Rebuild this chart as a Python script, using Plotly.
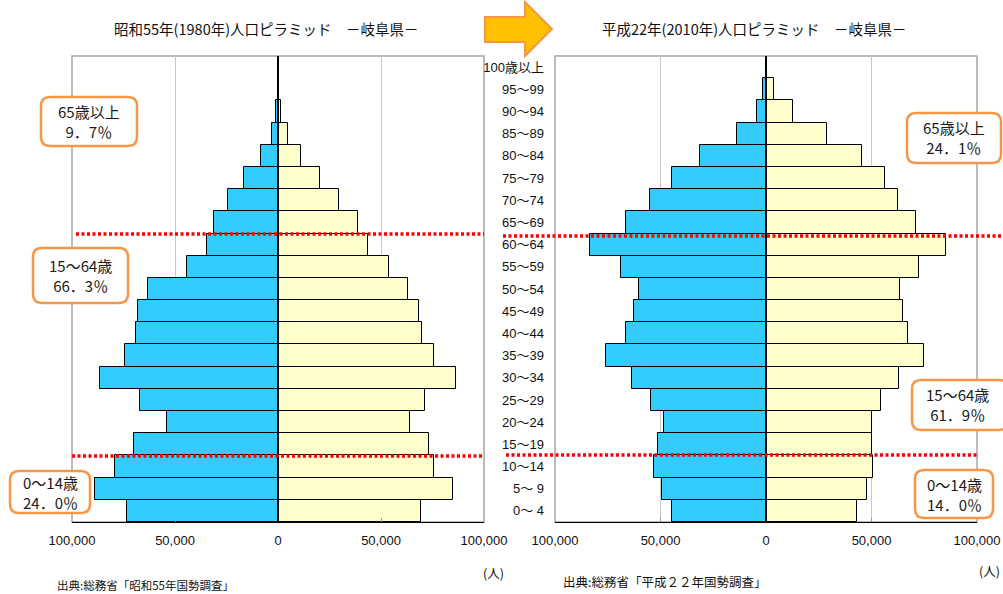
import plotly.graph_objects as go

# ---------------- data (bottom -> top) ----------------
age_labels = ["0～ 4", "5～ 9", "10～14", "15～19", "20～24", "25～29", "30～34",
              "35～39", "40～44", "45～49", "50～54", "55～59", "60～64", "65～69",
              "70～74", "75～79", "80～84", "85～89", "90～94", "95～99", "100歳以上"]

male_1980 = [73300, 88800, 79000, 70100, 53700, 66900, 86300, 74200, 68700, 67800,
             63200, 44000, 34600, 31100, 24100, 16400, 8100, 2800, 900, 150, 20]
female_1980 = [69200, 84800, 75600, 73300, 64000, 71500, 86500, 75600, 70100, 68400,
               63200, 53900, 43700, 39000, 29400, 20500, 11300, 4700, 1300, 250, 30]

male_2010 = [44600, 49400, 53300, 51300, 48500, 54400, 63400, 76000, 66200, 62500,
             60000, 68600, 83300, 66400, 55000, 44600, 31100, 13700, 4400, 1300, 150]
female_2010 = [43000, 47700, 50800, 50000, 50000, 54700, 62900, 74900, 67100, 65100,
               63400, 72400, 85500, 71100, 62600, 56300, 45300, 28900, 12900, 3800, 600]

tick_vals = [-100000, -50000, 0, 50000, 100000]
tick_text = ["100,000", "50,000", "0", "50,000", "100,000"]

title_1980 = "昭和55年(1980年)人口ピラミッド　－岐阜県－"
title_2010 = "平成22年(2010年)人口ピラミッド　－岐阜県－"
source_1980 = "出典:総務省「昭和55年国勢調査」"
source_2010 = "出典:総務省「平成２２年国勢調査」"
unit_label = "(人)"

shares_1980 = [("65歳以上", "9．7％"), ("15～64歳", "66．3％"), ("0～14歳", "24．0％")]
shares_2010 = [("65歳以上", "24．1％"), ("15～64歳", "61．9％"), ("0～14歳", "14．0％")]

# ---------------- styling ----------------
W, H = 1003, 594
MALE = "#33CCFF"
FEMALE = "#FFFFCC"
JP = "Noto Sans CJK JP"
NARROW = "Liberation Sans Narrow, Liberation Sans, Noto Sans CJK JP"
ORANGE = "#F79646"


def px(x):
    return x / W


def py(y):
    return 1 - y / H


fig = go.Figure()

for xa, ya, m, f in [("x", "y", male_1980, female_1980), ("x2", "y2", male_2010, female_2010)]:
    fig.add_trace(go.Bar(y=age_labels, x=[-v for v in m], orientation="h",
                         marker=dict(color=MALE, line=dict(color="black", width=1)),
                         xaxis=xa, yaxis=ya, showlegend=False, hoverinfo="skip"))
    fig.add_trace(go.Bar(y=age_labels, x=f, orientation="h",
                         marker=dict(color=FEMALE, line=dict(color="black", width=1)),
                         xaxis=xa, yaxis=ya, showlegend=False, hoverinfo="skip"))

xcommon = dict(range=[-100000, 100000], tickvals=tick_vals, ticktext=tick_text,
               showgrid=True, gridcolor="#C8C8C8", gridwidth=1, zeroline=False,
               showline=True, linecolor="black", linewidth=1,
               ticks="inside", ticklen=4, tickcolor="#999999",
               tickfont=dict(family=NARROW, size=13, color="#111111"),
               ticklabelstandoff=6, fixedrange=True, automargin=False)
ycommon = dict(type="category", categoryorder="array", categoryarray=age_labels,
               range=[-0.5, len(age_labels) - 0.5], showgrid=False, zeroline=False,
               fixedrange=True, automargin=False)

ydom = [py(522), py(56)]
fig.update_layout(
    width=W, height=H,
    margin=dict(l=0, r=0, t=0, b=0, autoexpand=False),
    paper_bgcolor="white", plot_bgcolor="white",
    barmode="relative", bargap=0,
    xaxis=dict(domain=[px(72), px(484)], anchor="y", **xcommon),
    yaxis=dict(domain=ydom, anchor="x", showticklabels=False, ticks="", **ycommon),
    xaxis2=dict(domain=[px(555), px(977)], anchor="y2", **xcommon),
    yaxis2=dict(domain=ydom, anchor="x2", showticklabels=True, ticks="",
                ticklabelstandoff=10,
                tickfont=dict(family=NARROW, size=13, color="#111111"), **ycommon),
)

shapes = []
# plot borders (gray) and centre lines
for xr, yr in [("x domain", "y domain"), ("x2 domain", "y2 domain")]:
    shapes.append(dict(type="rect", xref=xr, yref=yr, x0=0, x1=1, y0=0, y1=1,
                       line=dict(color="#A6A6A6", width=1.5), layer="below"))
for xr, yr in [("x", "y domain"), ("x2", "y2 domain")]:
    shapes.append(dict(type="line", xref=xr, yref=yr, x0=0, x1=0, y0=0, y1=1,
                       line=dict(color="black", width=2), layer="above"))

# red dotted boundary lines
red_lines = [(76, 484, 234), (503, 1001, 236), (72, 484, 456), (506, 977, 455)]
for x0, x1, y in red_lines:
    shapes.append(dict(type="line", xref="paper", yref="paper",
                       x0=px(x0), x1=px(x1), y0=py(y), y1=py(y),
                       line=dict(color="#FF0000", width=3.5, dash="3px,2.5px"), layer="above"))


def rrect(x0, y0, x1, y1, r):
    pts = [("M", x0 + r, y0), ("L", x1 - r, y0), ("Q", x1, y0, x1, y0 + r),
           ("L", x1, y1 - r), ("Q", x1, y1, x1 - r, y1), ("L", x0 + r, y1),
           ("Q", x0, y1, x0, y1 - r), ("L", x0, y0 + r), ("Q", x0, y0, x0 + r, y0)]
    out = []
    for p in pts:
        cmd = p[0]
        coords = p[1:]
        s = " ".join(f"{px(coords[i]):.5f},{py(coords[i + 1]):.5f}" for i in range(0, len(coords), 2))
        out.append(f"{cmd} {s}")
    return " ".join(out) + " Z"


boxes_1980 = [(41, 97, 137, 146), (33, 248, 128, 303), (10, 471, 90, 513)]
boxes_2010 = [(907, 113, 1001, 163), (912, 380, 1008, 430), (915, 470, 993, 518)]

annotations = []
for boxes, shares in [(boxes_1980, shares_1980), (boxes_2010, shares_2010)]:
    for (x0, y0, x1, y1), (lab, pct) in zip(boxes, shares):
        shapes.append(dict(type="path", xref="paper", yref="paper",
                           path=rrect(x0, y0, x1, y1, 9), fillcolor="white",
                           line=dict(color=ORANGE, width=2.5), layer="above"))
        cx = (x0 + 1002) / 2 if x1 > 1003 else (x0 + x1) / 2
        annotations.append(dict(xref="paper", yref="paper", x=px(cx), y=py((y0 + y1) / 2),
                                text=f"{lab}<br>{pct}", showarrow=False,
                                font=dict(family=JP, size=15, color="#1a1a1a"),
                                xanchor="center", yanchor="middle", align="center"))

# orange arrow between the titles
arrow = [(485, 17), (525, 17), (525, 2), (552, 29), (525, 56), (525, 42), (485, 42)]
apath = "M " + " L ".join(f"{px(x):.5f},{py(y):.5f}" for x, y in arrow) + " Z"
shapes.append(dict(type="path", xref="paper", yref="paper", path=apath,
                   fillcolor="#FFC000", line=dict(color=ORANGE, width=2), layer="above"))

# titles, units, sources
annotations += [
    dict(xref="paper", yref="paper", x=px(266), y=py(28), text=title_1980, showarrow=False,
         font=dict(family=JP, size=14.5, color="#111111"), xanchor="center", yanchor="middle"),
    dict(xref="paper", yref="paper", x=px(754), y=py(28), text=title_2010, showarrow=False,
         font=dict(family=JP, size=14.5, color="#111111"), xanchor="center", yanchor="middle"),
    dict(xref="paper", yref="paper", x=px(493), y=py(572), text=unit_label, showarrow=False,
         font=dict(family=JP, size=12.5, color="#111111"), xanchor="center", yanchor="middle"),
    dict(xref="paper", yref="paper", x=px(989), y=py(570), text=unit_label, showarrow=False,
         font=dict(family=JP, size=12.5, color="#111111"), xanchor="center", yanchor="middle"),
    dict(xref="paper", yref="paper", x=px(55), y=py(585), text=source_1980, showarrow=False,
         font=dict(family=JP, size=11.5, color="#111111"), xanchor="left", yanchor="middle"),
    dict(xref="paper", yref="paper", x=px(561), y=py(581), text=source_2010, showarrow=False,
         font=dict(family=JP, size=12.5, color="#111111"), xanchor="left", yanchor="middle"),
]

fig.update_layout(shapes=shapes, annotations=annotations)
# remove the default page body margin so the figure sits at the window's top-left corner
fig.write_html("out.html", config={"displayModeBar": False},
               post_script="document.body.style.margin='0';")
